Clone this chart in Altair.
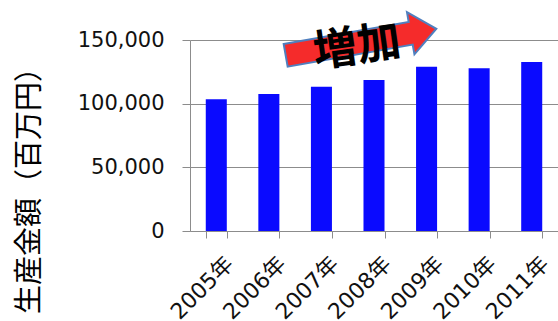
import altair as alt
import pandas as pd

years = ["2005年", "2006年", "2007年", "2008年", "2009年", "2010年", "2011年"]
values = [103400, 107600, 113300, 118600, 129000, 127800, 132700]
y_ticks = [0, 50000, 100000, 150000]

note_text = ["増加"]
note_x = ["2008年"]
arrow_y = [148400]
label_y = [145300]

df = pd.DataFrame({"year": years, "value": values})
arrow_df = pd.DataFrame({"year": note_x, "value": arrow_y})
label_df = pd.DataFrame({"year": note_x, "value": label_y, "label": note_text})

x_enc = alt.X(
    "year:N", sort=years,
    scale=alt.Scale(paddingInner=0.6, paddingOuter=0.3),
    axis=alt.Axis(title=None, labelAngle=315, labelFontSize=22,
                  labelFont="DejaVu Sans, Noto Sans CJK JP", labelColor="#111111",
                  labelAlign="right", labelBaseline="top",
                  tickBand="extent", tickSize=7, tickColor="#8c8c8c",
                  domainColor="#8c8c8c", labelPadding=15, labelOffset=6,
                  grid=False),
)
y_enc = alt.Y(
    "value:Q",
    scale=alt.Scale(domain=[0, 150000], nice=False),
    axis=alt.Axis(values=y_ticks, format=",d", title="生産金額（百万円）",
                  titleFont="Noto Sans CJK JP", titleFontSize=29,
                  titleFontWeight="normal", titleColor="#000000",
                  titleAngle=270, titleBaseline="middle", titleAlign="center",
                  titleX=-161, titleY=143,
                  labelFont="DejaVu Sans", labelFontSize=21,
                  labelColor="#111111", labelPadding=18,
                  tickSize=8, tickColor="#8c8c8c", domainColor="#8c8c8c",
                  gridColor="#8c8c8c", gridWidth=1),
)

bars = alt.Chart(df).mark_bar(color="#0a0aff").encode(x=x_enc, y=y_enc)

arrow_path = "M-1,-0.15 L0.66,-0.15 L0.66,-0.28 L1,0 L0.66,0.28 L0.66,0.15 L-1,0.15 Z"
arrow = alt.Chart(arrow_df).mark_point(
    shape=arrow_path, size=23400, angle=350, filled=True,
    fill="#f52b2b", stroke="#4f7fbf", strokeWidth=2, opacity=1, xOffset=-13,
).encode(x=x_enc, y=y_enc)

label = alt.Chart(label_df).mark_text(
    font="Noto Sans CJK JP", fontSize=44, fontWeight="bold", color="#000000",
    angle=352, dx=-17, align="center", baseline="middle",
).encode(x=x_enc, y=y_enc, text="label:N")

chart = alt.layer(bars, arrow, label).properties(
    width=368, height=191,
    autosize=alt.AutoSizeParams(type="none"),
    padding={"left": 190, "top": 40, "right": 0, "bottom": 90},
    background="white",
).configure_view(strokeWidth=0)

chart.save("out.html", embed_options={"renderer": "svg", "actions": False})
